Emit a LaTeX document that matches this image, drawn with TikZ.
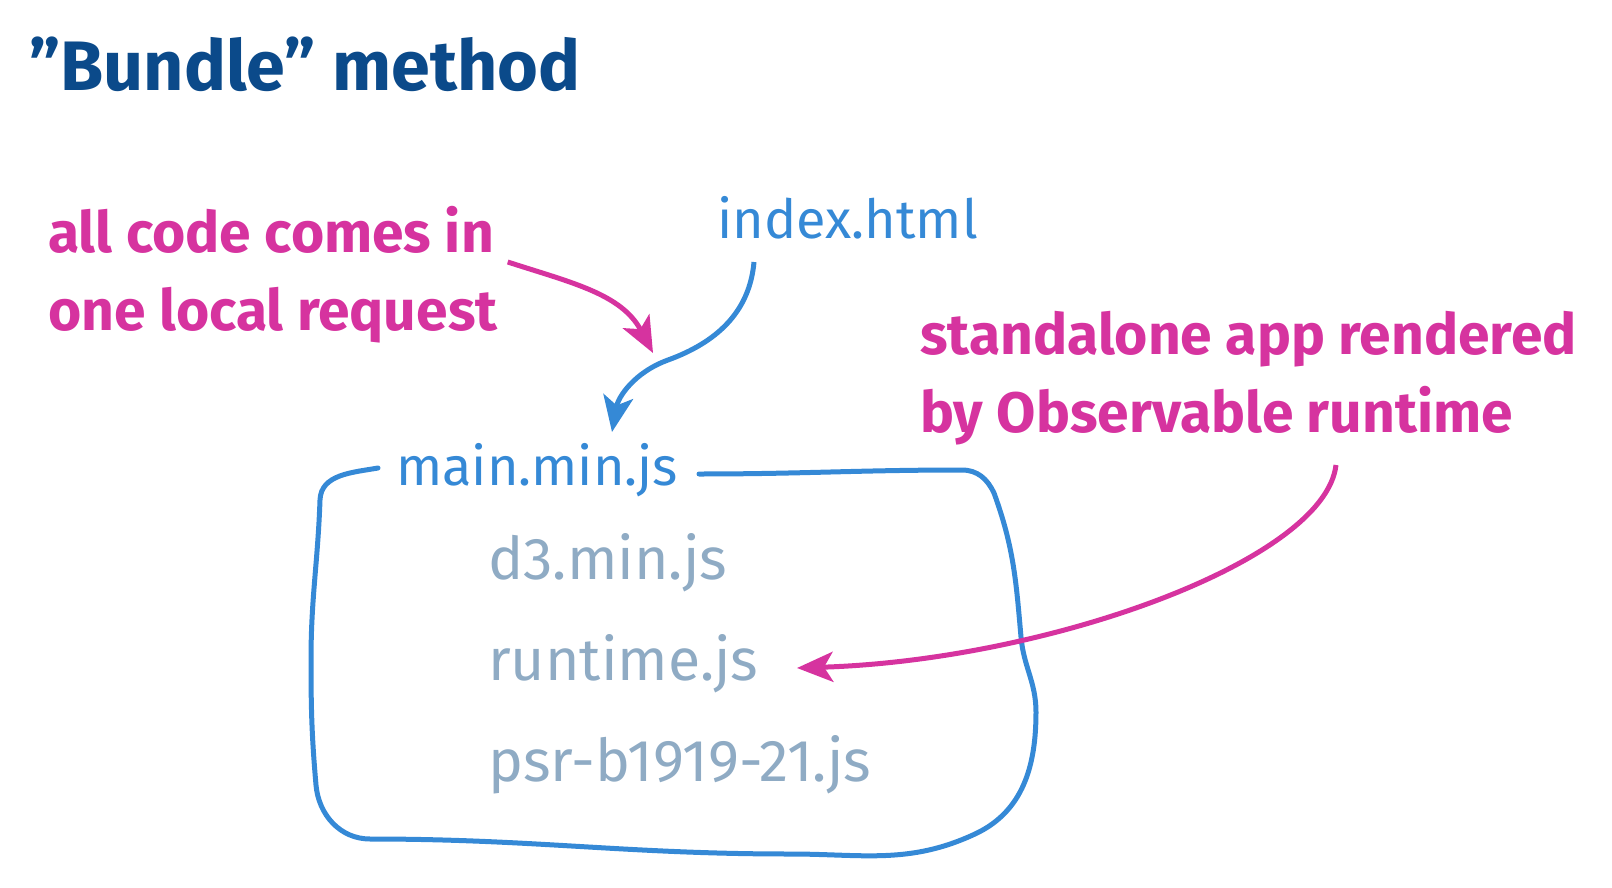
\documentclass[tikz,border=0pt]{standalone}
\usepackage{fontspec}
\setmainfont{Fira Sans}
\usetikzlibrary{arrows.meta,positioning}

\definecolor{titleblue}{HTML}{0B4A8A}
\definecolor{linkblue}{HTML}{3589D6}
\definecolor{notepink}{HTML}{D6339F}
\definecolor{filegray}{HTML}{8FABC4}

\tikzset{
  heading/.style={anchor=west,inner sep=0pt,text=titleblue,
    font=\fontsize{70}{76}\selectfont\bfseries},
  pinknote/.style={anchor=west,inner sep=0pt,text=notepink,align=left,
    font=\fontsize{57}{78}\selectfont\bfseries},
  bluefile/.style={anchor=west,inner sep=0pt,text=linkblue,
    font=\fontsize{54}{60}\selectfont\mdseries},
  grayfile/.style={anchor=west,inner sep=0pt,text=filegray,
    font=\fontsize{59}{60}\selectfont\mdseries},
  pinkarrow/.style={draw=notepink,line width=5pt,
    -{Stealth[length=36pt,width=30pt,inset=9pt]}},
  bluearrow/.style={draw=linkblue,line width=5pt,
    -{Stealth[length=36pt,width=30pt,inset=9pt]}}
}

\begin{document}
\begin{tikzpicture}[x=1pt,y=-1pt,node distance=101pt]
\useasboundingbox (0,0) rectangle (1612,888);

\node[heading] (title) at (29,64) {"Bundle" method};

\node[pinknote] (codenote) at (48,275) {all code comes in\\one local request};
\node[pinknote] (appnote) at (920,378) {standalone app rendered\\by Observable runtime};

\node[bluefile] (index) at (717,218) {index.html};
\node[bluefile] (mainjs) at (396,470) {main.min.js};

\node[grayfile] (d3) at (488,563) {d3.min.js};
\node[grayfile,below=of d3.west,anchor=west] (runtime) {runtime.js};
\node[grayfile,below=of runtime.west,anchor=west] (psr) {psr-b1919-21.js};

% the bundle
\draw[linkblue,line width=5pt,line cap=round]
  (699,474) to[out=0,in=180] (962,470) to[out=0,in=115] (994,493)
  to[out=-70,in=95] (1021,637) to[out=-85,in=90] (1036,712)
  to[out=-90,in=25] (975,834) to[out=205,in=0] (790,854)
  to[out=180,in=0] (370,839) to[out=180,in=-85] (316,785)
  to[out=95,in=-90] (311,660) to[out=90,in=-92] (320,500)
  to[out=88,in=190] (378,468);

\coordinate (bundletip) at (653,353);
\draw[pinkarrow] ([xshift=10pt,yshift=13pt]codenote.east) to[out=-18,in=118] (bundletip);
\draw[bluearrow] ([xshift=37pt,yshift=-44pt]index.west) to[out=-95,in=20] (668,360)
  to[out=200,in=80] ([xshift=216pt,yshift=38pt]mainjs.west);
\draw[pinkarrow] ([xshift=1336pt-920pt,yshift=-87pt]appnote.west)
  .. controls (1325,560) and (1050,660) .. ([xshift=309pt,yshift=-4pt]runtime.west);
\end{tikzpicture}
\end{document}
